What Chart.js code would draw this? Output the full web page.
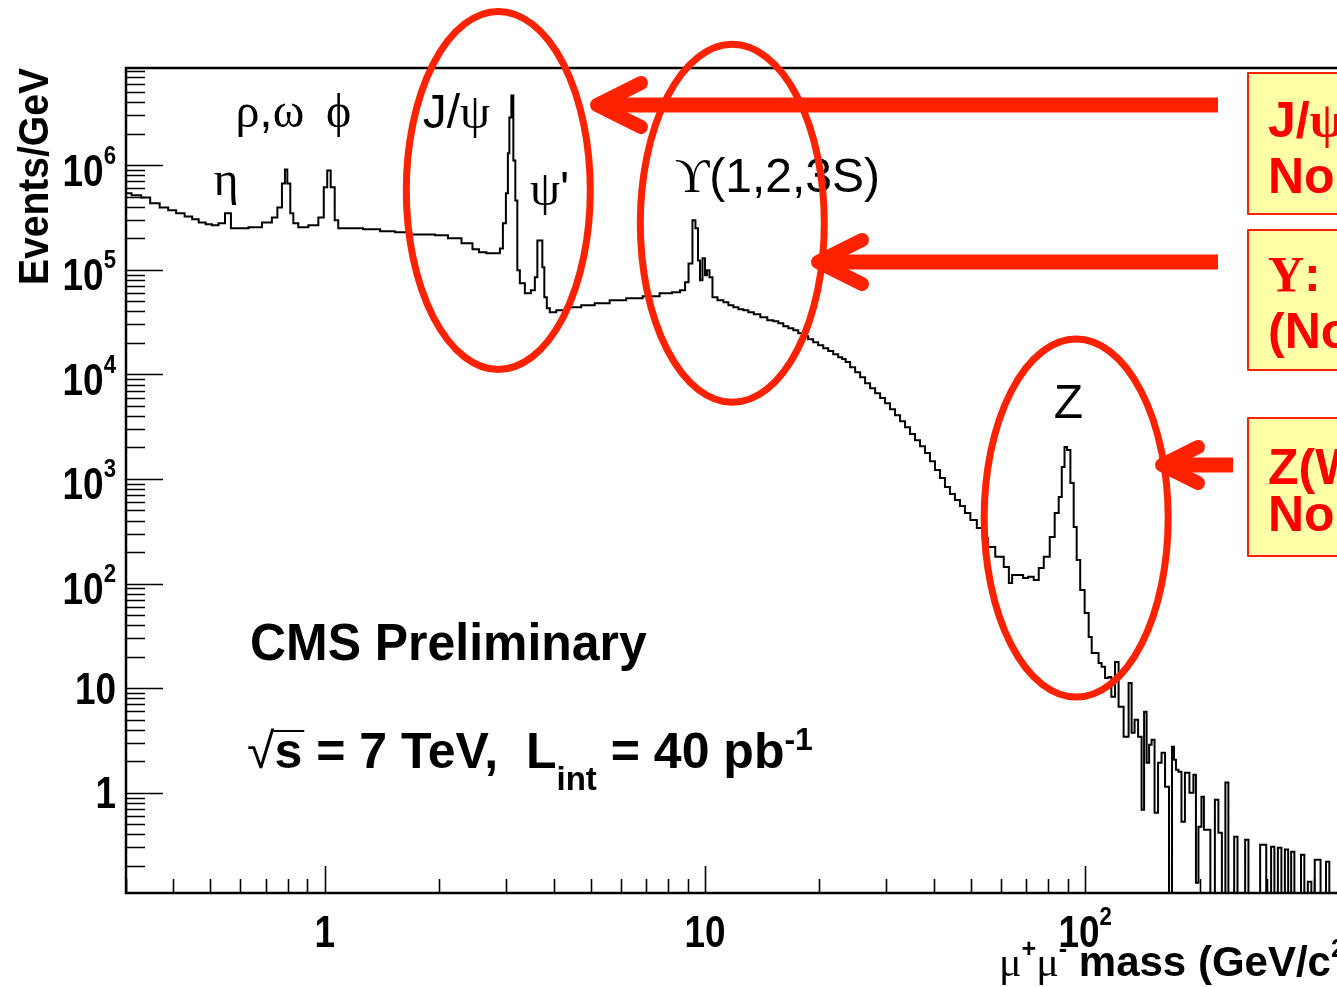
<!DOCTYPE html>
<html lang="en">
<head>
  <meta charset="UTF-8" />
  <title>CMS dimuon mass spectrum</title>
  <script src="https://cdn.jsdelivr.net/npm/chart.js"></script>
  <style>
    html, body { margin: 0; padding: 0; background: #fff; overflow: hidden; }
    canvas { display: block; }
  </style>
</head>
<body>
  <canvas id="massChart" width="1560" height="987"></canvas>

  <script>
    // mu+mu- invariant mass, bin centres (GeV/c^2)
    const massBins = [
      0.300, 0.321, 0.337, 0.358, 0.378, 0.397, 0.416, 0.440, 0.456, 0.476,
      0.496, 0.514, 0.537, 0.556, 0.577, 0.606, 0.655, 0.713, 0.739, 0.762,
      0.781, 0.790, 0.804, 0.819, 0.834, 0.870, 0.942, 0.982, 1.006, 1.024,
      1.049, 1.075, 1.095, 1.199, 1.328, 1.472, 1.592, 1.723, 1.875, 2.028,
      2.194, 2.388, 2.506, 2.583, 2.744, 2.862, 2.914, 2.968, 3.022, 3.040,
      3.077, 3.114, 3.152, 3.190, 3.229, 3.289, 3.431, 3.537, 3.601, 3.646,
      3.712, 3.757, 3.802, 3.872, 3.943, 4.188, 4.531, 4.931, 5.333, 5.911,
      6.512, 7.218, 7.996, 8.390, 8.811, 8.918, 9.190, 9.350, 9.530, 9.645,
      9.760, 9.940, 10.06, 10.18, 10.37, 10.56, 11.02, 11.35, 11.70, 12.06,
      12.43, 12.81, 13.20, 13.69, 14.28, 14.90, 15.36, 15.83, 16.32, 16.82,
      17.33, 17.86, 18.41, 18.97, 19.55, 20.16, 20.78, 21.42, 22.07, 22.75,
      23.16, 23.73, 24.46, 25.21, 25.98, 26.78, 27.60, 28.46, 29.32, 30.22,
      31.14, 32.11, 33.09, 34.11, 35.15, 36.24, 37.34, 38.48, 39.66, 40.89,
      42.14, 43.43, 44.76, 46.13, 47.56, 49.00, 50.80, 53.00, 54.60, 56.30,
      59.80, 62.40, 63.60, 64.90, 67.50, 69.90, 71.70, 74.80, 76.20, 79.50,
      81.90, 84.40, 86.00, 87.60, 88.90, 90.40, 92.50, 94.10, 95.90, 98.20,
      101.2, 103.1, 105.0, 107.4, 109.5, 111.4, 114.2, 116.0, 118.4, 121.3,
      123.6, 128.9, 131.3, 133.7, 136.1, 139.5, 142.0, 143.8, 146.4, 148.2,
      150.9, 153.6, 157.4, 160.3, 164.2, 168.2, 170.2, 172.3, 174.3, 177.6,
      180.8, 185.2, 190.9, 194.4, 196.8, 200.4, 204.1, 206.5, 210.3, 216.7,
      222.1, 226.1, 231.7, 235.9, 240.3, 244.1, 249.1, 254.1, 260.9, 266.2,
      271.5, 285.7, 291.5, 296.5, 302.4, 305.3, 311.5, 317.7, 325.0, 331.5,
      339.0, 344.9, 351.6, 358.6, 365.9, 373.4, 380.9, 389.6, 397.4, 406.0,
      412.0, 420.2, 425.7, 434.4, 443.1, 600.0
    ];

    // events / GeV in each bin (0 = empty bin)
    const eventsPerGeV = [
      5.4e5, 5.15e5, 4.92e5, 4.32e5, 3.95e5, 3.70e5, 3.47e5, 3.24e5, 3.04e5, 2.84e5,
      2.72e5, 2.66e5, 2.78e5, 3.47e5, 2.49e5, 2.49e5, 2.55e5, 2.84e5, 3.17e5, 3.95e5,
      6.7e5, 9.1e5, 6.7e5, 3.47e5, 2.78e5, 2.55e5, 2.66e5, 3.17e5, 6.14e5, 8.9e5,
      6.14e5, 2.97e5, 2.49e5, 2.49e5, 2.44e5, 2.33e5, 2.28e5, 2.18e5, 2.18e5, 2.14e5,
      2.0e5, 1.79e5, 1.57e5, 1.47e5, 1.44e5, 1.44e5, 1.6e5, 2.78e5, 5.38e5, 1.3e6,
      2.86e6, 4.64e6, 1.11e6, 4.61e5, 9.9e4, 7.43e4, 5.97e4, 6.37e4, 8.48e4, 1.91e5,
      1.91e5, 1.06e5, 5.46e4, 4.29e4, 3.93e4, 4.1e4, 4.38e4, 4.58e4, 4.79e4, 5.12e4,
      5.35e4, 5.59e4, 5.97e4, 6.09e4, 6.37e4, 7.6e4, 1.15e5, 2.97e5, 2.49e5, 1.23e5,
      7.94e4, 1.29e5, 8.86e4, 9.9e4, 8.48e4, 5.46e4, 5.12e4, 4.89e4, 4.58e4, 4.38e4,
      4.2e4, 4.1e4, 3.93e4, 3.76e4, 3.52e4, 3.29e4, 3.22e4, 3.08e4, 2.89e4, 2.76e4,
      2.64e4, 2.48e4, 2.32e4, 2.17e4, 2.03e4, 1.9e4, 1.78e4, 1.67e4, 1.56e4, 1.46e4,
      1.40e4, 1.31e4, 1.17e4, 1.05e4, 9400, 8240, 7380, 6610, 5930, 5310,
      4650, 4070, 3570, 3130, 2690, 2350, 2060, 1770, 1480, 1220,
      1020, 837, 717, 629, 551, 472, 405, 340, 273, 224,
      180, 144, 101, 121, 121, 113, 116, 108, 141, 180,
      279, 472, 671, 1300, 2020, 1890, 914, 347, 168, 86.9,
      52.4, 30.9, 21.7, 21.7, 17.4, 16.0, 12.5, 12.8, 8.26, 17.8,
      6.63, 3.43, 11.2, 3.74, 4.98, 3.43, 0.688, 5.94, 1.93, 2.87,
      3.21, 0.644, 1.93, 2.41, 1.14, 0, 2.75, 2.07, 1.66, 1.59,
      0.528, 1.55, 1.0, 1.49, 0.138, 0.474, 0.916, 0.443, 0.443, 0,
      0.857, 0.415, 0, 1.25, 0, 0, 0.38, 0, 0, 0.356,
      0, 0, 0.319, 0.319, 0, 0, 0.305, 0, 0.298, 0,
      0.286, 0, 0.273, 0, 0, 0.256, 0, 0.141, 0, 0.229,
      0.229, 0, 0, 0.219, 0, 0
    ];

    const xTickValues = [1, 10, 100];
    const xTickLabels = ['1', '10', '10^{2}'];
    const yTickValues = [1, 10, 100, 1e3, 1e4, 1e5, 1e6];
    const yTickLabels = ['1', '10', '10^{2}', '10^{3}', '10^{4}', '10^{5}', '10^{6}'];

    // resonance names, placed at (mass, events/GeV) of their baseline centre
    const peakNames = ['η', 'ρ,ω', 'ϕ', 'J/ψ', "ψ'", 'ϒ(1,2,3S)', 'Z'];
    const peakLabelMass = [0.55, 0.717, 1.088, 2.22, 3.90, 15.5, 90.3];
    const peakLabelValue = [5.15e5, 2.3e6, 2.3e6, 2.25e6, 4.13e5, 5.5e5, 3.82e3];

    // red circles around J/psi, Upsilon and Z regions
    const circleMass = [2.86, 11.8, 94.7];
    const circleValue = [5.74e5, 2.78e5, 423];

    const X_MIN = 0.3, X_MAX = 600, Y_MIN = 0.11, Y_MAX = 8.5e6;
    const SANS = '"Liberation Sans", Arial, Helvetica, sans-serif';
    const SERIF = '"Liberation Serif", "DejaVu Serif", "Times New Roman", serif';
    const RED = '#ff2200';

    // split "10^{2}" / "L_{int}" into runs, greek letters go to the serif font
    function parseRich(str) {
      const segs = [];
      const push = (s, level) => {
        for (const c of s) {
          const kind = /[\u0370-\u03FF]/.test(c) ? 'serif' : (c === '√' ? 'thin' : 'sans');
          const last = segs[segs.length - 1];
          if (last && last.level === level && last.kind === kind) last.t += c;
          else segs.push({ t: c, level, kind });
        }
      };
      let i = 0;
      while (i < str.length) {
        const ch = str[i];
        if ((ch === '^' || ch === '_') && str[i + 1] === '{') {
          const end = str.indexOf('}', i);
          push(str.slice(i + 2, end), ch === '^' ? 1 : -1);
          i = end + 1;
        } else {
          push(ch, 0);
          i++;
        }
      }
      return segs;
    }

    function richText(ctx, str, x, y, o) {
      const F = o.size, sx = o.sx || 1;
      const segs = parseRich(str);
      const fontFor = s => {
        const size = s.level === 0 ? F : F * (s.level > 0 ? (o.supScale || 0.6) : (o.subScale || 0.66));
        const weight = (o.bold && s.kind !== 'thin' && !(o.thinGreek && s.kind === 'serif')) ? 'bold ' : '';
        return weight + size.toFixed(1) + 'px ' + (s.kind === 'serif' ? SERIF : SANS);
      };
      let total = 0;
      segs.forEach(s => {
        ctx.font = fontFor(s);
        s.w = ctx.measureText(s.t).width * sx;
        total += s.w;
      });
      let cx = o.align === 'right' ? -total : o.align === 'center' ? -total / 2 : 0;
      ctx.save();
      ctx.translate(x, y);
      if (o.rotate) ctx.rotate(o.rotate);
      ctx.fillStyle = o.color || '#000';
      ctx.textAlign = 'left';
      ctx.textBaseline = 'alphabetic';
      segs.forEach(s => {
        const dy = s.level > 0 ? -F * (o.supRaise || 0.5) : s.level < 0 ? F * (o.subDrop || 0.4) : 0;
        ctx.save();
        ctx.translate(cx, dy);
        ctx.scale(sx, 1);
        ctx.font = fontFor(s);
        ctx.fillText(s.t, 0, 0);
        ctx.restore();
        s.x = cx;
        cx += s.w;
      });
      ctx.restore();
      return segs;
    }

    // ROOT style frame: ticks pointing inwards, labels with exponents
    const rootAxes = {
      id: 'rootAxes',
      afterDatasetsDraw(chart) {
        const { ctx, chartArea: a, scales: { x, y } } = chart;
        ctx.save();
        ctx.strokeStyle = '#000';
        ctx.lineWidth = 1.6;
        ctx.beginPath();
        for (let e = -1; e <= 6; e++) {
          for (let k = 1; k <= 9; k++) {
            const v = k * Math.pow(10, e);
            if (v < Y_MIN || v > Y_MAX) continue;
            const py = Math.round(y.getPixelForValue(v)) + 0.5;
            ctx.moveTo(a.left, py);
            ctx.lineTo(a.left + (k === 1 ? 37 : 19), py);
          }
        }
        for (let e = -1; e <= 2; e++) {
          for (let k = 1; k <= 9; k++) {
            const v = k * Math.pow(10, e);
            if (v < X_MIN || v > X_MAX) continue;
            const px = Math.round(x.getPixelForValue(v)) + 0.5;
            ctx.moveTo(px, a.bottom);
            ctx.lineTo(px, a.bottom - (k === 1 ? 27 : 14));
          }
        }
        ctx.stroke();

        ctx.lineWidth = 2.5;
        ctx.strokeRect(a.left, a.top, a.right - a.left, a.bottom - a.top);
        ctx.restore();

        // y tick labels, centred on the tick including the exponent
        const F = 44;
        yTickValues.forEach((v, i) => {
          const py = y.getPixelForValue(v);
          const hasSup = yTickLabels[i].includes('^');
          const h = hasSup ? Math.max(0.716 * F, 0.5 * F + 0.716 * 0.6 * F) : 0.716 * F;
          richText(ctx, yTickLabels[i], 116, py + h / 2, { size: F, bold: true, sx: 0.84, align: 'right' });
        });
        xTickValues.forEach((v, i) => {
          richText(ctx, xTickLabels[i], x.getPixelForValue(v), 947, { size: F, bold: true, sx: 0.84, align: 'center' });
        });

        // axis titles
        richText(ctx, 'Events/GeV', 48, a.top, { size: 42, bold: true, sx: 0.93, align: 'right', rotate: -Math.PI / 2 });
        richText(ctx, 'μ^{+}μ^{-} mass (GeV/c^{2})', 999, 976,
          { size: 42, bold: true, sx: 1.0, align: 'left', thinGreek: true, supRaise: 0.45 });
      }
    };

    const annotations = {
      id: 'annotations',
      afterDraw(chart) {
        const { ctx, scales: { x, y } } = chart;

        peakNames.forEach((name, i) => {
          richText(ctx, name, x.getPixelForValue(peakLabelMass[i]), y.getPixelForValue(peakLabelValue[i]),
            { size: 48, align: 'center' });
        });

        richText(ctx, 'CMS Preliminary', 250, 660, { size: 52, bold: true, sx: 0.96 });
        const segs = richText(ctx, '√s = 7 TeV,  L_{int} = 40 pb^{-1}', 247, 768,
          { size: 50, bold: true, subScale: 0.66, subDrop: 0.44, supScale: 0.64, supRaise: 0.36 });
        // bar over the s of the square root
        ctx.save();
        ctx.font = 'bold 50px ' + SANS;
        const sW = ctx.measureText('s').width;
        ctx.strokeStyle = '#000';
        ctx.lineWidth = 2;
        ctx.beginPath();
        ctx.moveTo(247 + segs[0].w - 1, 768 - 37);
        ctx.lineTo(247 + segs[0].w + sW + 2, 768 - 37);
        ctx.stroke();
        ctx.restore();

        ctx.save();
        ctx.strokeStyle = RED;
        ctx.lineWidth = 7;
        circleMass.forEach((m, i) => {
          ctx.beginPath();
          ctx.ellipse(x.getPixelForValue(m), y.getPixelForValue(circleValue[i]), 92, 179, 0, 0, Math.PI * 2);
          ctx.stroke();
        });

        // arrows pointing from the boxes to the circles
        const arrows = [
          { tipX: 597, tailX: 1218, y: 105, head: 44 },
          { tipX: 818, tailX: 1218, y: 262, head: 44 },
          { tipX: 1162, tailX: 1233, y: 465, head: 36 }
        ];
        arrows.forEach(ar => {
          ctx.lineWidth = 15;
          ctx.lineCap = 'butt';
          ctx.beginPath();
          ctx.moveTo(ar.tailX, ar.y);
          ctx.lineTo(ar.tipX + 4, ar.y);
          ctx.stroke();
          ctx.lineWidth = 14;
          ctx.lineCap = 'round';
          ctx.lineJoin = 'round';
          ctx.beginPath();
          ctx.moveTo(ar.tipX + ar.head, ar.y - ar.head * 0.5);
          ctx.lineTo(ar.tipX, ar.y);
          ctx.lineTo(ar.tipX + ar.head, ar.y + ar.head * 0.5);
          ctx.stroke();
        });

        // yellow note boxes (cut by the right edge, as in the slide)
        const boxes = [
          { top: 73, bottom: 214, lines: ['J/ψ: Richter, Ting', 'No Nobel 1976'], base: [137, 193] },
          { top: 230, bottom: 370, lines: ['Υ: Lederman', '(No Nobel)'], base: [291, 348] },
          { top: 418, bottom: 556, lines: ['Z(W): Rubbia, van der Meer', 'No Nobel 1984'], base: [484, 531] }
        ];
        boxes.forEach(b => {
          ctx.fillStyle = '#ffffa8';
          ctx.fillRect(1248, b.top, 320, b.bottom - b.top);
          ctx.strokeStyle = RED;
          ctx.lineWidth = 2;
          ctx.strokeRect(1248, b.top, 320, b.bottom - b.top);
          b.lines.forEach((t, k) => {
            richText(ctx, t, 1268, b.base[k], { size: 50, bold: true, color: '#ff0000' });
          });
        });
        ctx.restore();
      }
    };

    new Chart(document.getElementById('massChart'), {
      type: 'line',
      data: {
        datasets: [{
          label: 'mu+mu- mass',
          data: massBins.map((m, i) => ({ x: m, y: eventsPerGeV[i] > 0 ? eventsPerGeV[i] : Y_MIN })),
          stepped: 'middle',
          borderColor: '#000',
          borderWidth: 2,
          pointRadius: 0,
          fill: false
        }]
      },
      options: {
        responsive: false,
        animation: false,
        devicePixelRatio: 1,
        layout: { padding: { left: 126, top: 68, right: 179, bottom: 94 } },
        plugins: { legend: { display: false }, tooltip: { enabled: false } },
        scales: {
          x: { type: 'logarithmic', min: X_MIN, max: X_MAX, bounds: 'data', display: false },
          y: { type: 'logarithmic', min: Y_MIN, max: Y_MAX, bounds: 'data', display: false }
        }
      },
      plugins: [rootAxes, annotations]
    });
  </script>
</body>
</html>
